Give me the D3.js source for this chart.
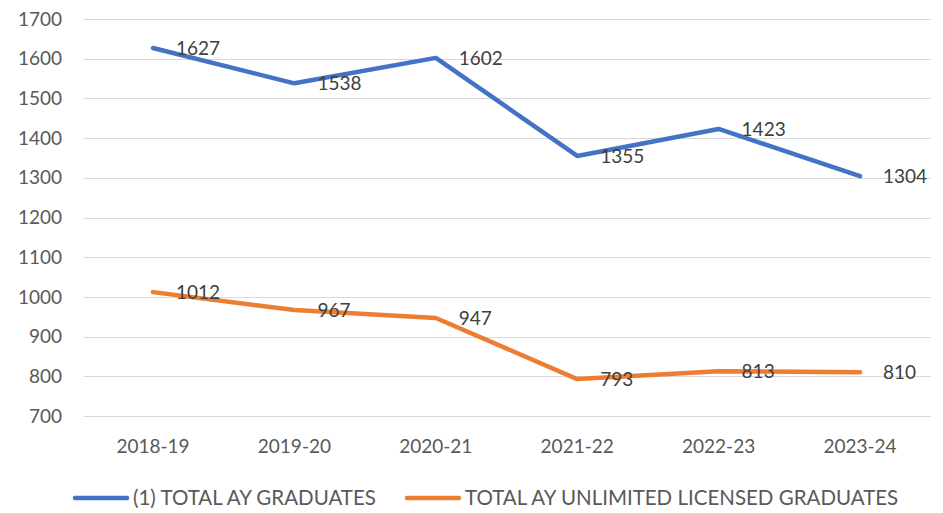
<!DOCTYPE html>
<meta charset="utf-8">
<style>
body { margin: 0; background: #fff; }
text { font-family: Lato, "Open Sans", sans-serif; }
.grid line { stroke: #d9d9d9; stroke-width: 1px; }
.axis text { fill: #595959; font-size: 19px; }
.lbl { fill: #404040; font-size: 19px; }
.leg { fill: #595959; font-size: 20.5px; }
</style>
<body>
<svg width="943" height="513"></svg>
</body>
<script src="https://d3js.org/d3.v7.min.js"></script>
<script>

var years = ["2018-19", "2019-20", "2020-21", "2021-22", "2022-23", "2023-24"];
var totalGrads = [1627, 1538, 1602, 1355, 1423, 1304];
var licensedGrads = [1012, 967, 947, 793, 813, 810];
var seriesNames = ["(1) TOTAL AY GRADUATES", "TOTAL AY UNLIMITED LICENSED GRADUATES"];
var colors = ["#4472C4", "#ED7D31"];
var yTicks = [700, 800, 900, 1000, 1100, 1200, 1300, 1400, 1500, 1600, 1700];

var svg = d3.select("svg");

var x = d3.scalePoint().domain(years).range([153, 860]);
var y = d3.scaleLinear().domain([700, 1700]).range([416, 19]);

// gridlines
svg.append("g").attr("class", "grid")
  .selectAll("line").data(yTicks).enter().append("line")
  .attr("x1", 84).attr("x2", 931)
  .attr("y1", d => Math.round(y(d)) + 0.5).attr("y2", d => Math.round(y(d)) + 0.5);

// y tick labels
svg.append("g").attr("class", "axis")
  .selectAll("text").data(yTicks).enter().append("text")
  .attr("x", 62).attr("y", d => y(d))
  .attr("text-anchor", "end").attr("dy", "0.35em")
  .text(d => d);

// x tick labels
svg.append("g").attr("class", "axis")
  .selectAll("text").data(years).enter().append("text")
  .attr("x", d => x(d)).attr("y", 446)
  .attr("text-anchor", "middle").attr("dy", "0.35em")
  .text(d => d);

var line = d3.line().x((d, i) => x(years[i])).y(d => y(d));

[totalGrads, licensedGrads].forEach(function(vals, k) {
  svg.append("path").datum(vals)
    .attr("d", line)
    .attr("fill", "none")
    .attr("stroke", colors[k])
    .attr("stroke-width", 4.5)
    .attr("stroke-linecap", "round")
    .attr("stroke-linejoin", "round");

  svg.append("g").selectAll("text").data(vals).enter().append("text")
    .attr("class", "lbl")
    .attr("x", (d, i) => x(years[i]) + 23)
    .attr("y", d => y(d))
    .attr("dy", "0.35em")
    .text(d => d);
});

// legend
var legX = [75, 407];
seriesNames.forEach(function(name, k) {
  var g = svg.append("g");
  g.append("line")
    .attr("x1", legX[k]).attr("x2", legX[k] + 52)
    .attr("y1", 498).attr("y2", 498)
    .attr("stroke", colors[k]).attr("stroke-width", 4.5)
    .attr("stroke-linecap", "round");
  g.append("text").attr("class", "leg")
    .attr("x", legX[k] + 58).attr("y", 498).attr("dy", "0.35em")
    .text(name);
});

</script>
